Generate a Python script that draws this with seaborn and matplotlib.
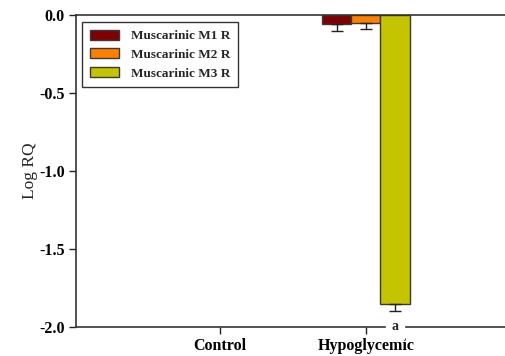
import pandas as pd
import numpy as np
import matplotlib
matplotlib.use('Agg')
import matplotlib.pyplot as plt
import seaborn as sns

# data
groups = ['Control', 'Hypoglycemic']
receptors = ['Muscarinic M1 R', 'Muscarinic M2 R', 'Muscarinic M3 R']
m1_vals = [0.0, -0.06]
m2_vals = [0.0, -0.053]
m3_vals = [0.0, -1.85]
m1_err = [0.0, 0.04]
m2_err = [0.0, 0.035]
m3_err = [0.0, 0.05]
colors = ['#800000', '#FF8000', '#C4C400']

sns.set_theme(style='white')
plt.rcParams['font.family'] = ['Liberation Serif', 'DejaVu Serif']

df = pd.DataFrame({
    'Group': groups * 3,
    'Receptor': [r for r in receptors for _ in groups],
    'LogRQ': m1_vals + m2_vals + m3_vals,
})
errs = [m1_err, m2_err, m3_err]

fig = plt.figure(figsize=(5.06, 3.56), dpi=100)
ax = fig.add_axes([0.150, 0.0815, 0.85, 0.8765])

sns.barplot(data=df, x='Group', y='LogRQ', hue='Receptor', order=groups,
            hue_order=receptors, palette=colors, errorbar=None, width=0.6,
            edgecolor='#3a3a3a', linewidth=1.0, saturation=1, ax=ax)

for cont, e in zip(ax.containers, errs):
    for bar, err in zip(cont, e):
        if bar.get_height() == 0:
            bar.set_visible(False)
        if err == 0:
            continue
        xc = bar.get_x() + bar.get_width() / 2
        h = bar.get_height()
        ax.errorbar(xc, h, yerr=[[err], [0]], fmt='none', ecolor='#222222',
                    elinewidth=1.0, capsize=4, capthick=1.0)

# significance mark under M3 bar
m3_bar = ax.containers[2][1]
ax.text(m3_bar.get_x() + m3_bar.get_width() / 2, -2.0, 'a', ha='center', va='center',
        fontsize=10, fontweight='bold', backgroundcolor='white', clip_on=False)

ax.set_xlim(-0.986, 1.96)
ax.set_ylim(-2.0, 0.0)
ax.set_yticks([0.0, -0.5, -1.0, -1.5, -2.0])
ax.set_yticklabels(['0.0', '-0.5', '-1.0', '-1.5', '-2.0'])
ax.tick_params(axis='both', direction='out', length=5, width=1, colors='#222222',
               labelsize=11.5, labelcolor='black', left=True, bottom=True, pad=3)
for lab in ax.get_xticklabels() + ax.get_yticklabels():
    lab.set_fontweight('bold')
ax.set_xlabel('')
ax.set_ylabel('Log RQ', fontsize=12.5, labelpad=1)

for s in ['left', 'top', 'bottom']:
    ax.spines[s].set_color('#333333')
    ax.spines[s].set_linewidth(1.2)
ax.spines['right'].set_visible(False)

leg = ax.legend(loc='upper left', bbox_to_anchor=(0.014, 0.978), borderaxespad=0,
                frameon=True, fancybox=False, edgecolor='black', fontsize=9.5,
                handlelength=2.2, handleheight=0.8, borderpad=0.6, labelspacing=0.45,
                handletextpad=0.9, title=None)
leg.get_frame().set_linewidth(1.0)
for t in leg.get_texts():
    t.set_fontweight('bold')

fig.savefig('out.png', dpi=100)
